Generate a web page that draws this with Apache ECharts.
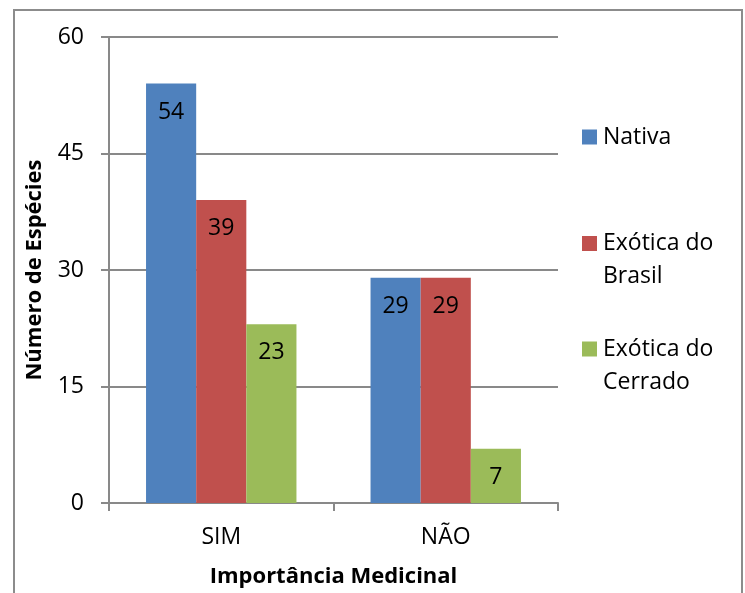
<!DOCTYPE html>
<html>
<head>
<meta charset="utf-8">
<script src="https://cdn.jsdelivr.net/npm/echarts@6/dist/echarts.min.js"></script>
<style>html,body{margin:0;padding:0;background:#fff}#c{width:745px;height:593px}</style>
</head>
<body>
<div id="c"></div>
<script>
const categories = ['SIM', 'NÃO'];
const seriesNames = ['Nativa', 'Exótica do Brasil', 'Exótica do Cerrado'];
const nativa = [54, 29];
const exoticaBrasil = [39, 29];
const exoticaCerrado = [23, 7];
const yTicks = { min: 0, max: 60, interval: 15 };
const xTitle = 'Importância Medicinal';
const yTitle = 'Número de Espécies';

const colors = ['#4F81BD', '#C0504D', '#9BBB59'];
const FONT = 'Open Sans';
const gridColor = '#898989';
const FS = 23;

const chart = echarts.init(document.getElementById('c'), null, { renderer: 'canvas' });

function legendFor(i, top, twoLine) {
  return {
    data: [seriesNames[i]],
    left: 582, top: top, padding: 0,
    orient: 'vertical',
    icon: 'rect', itemWidth: 15, itemHeight: 15,
    selectedMode: false,
    formatter: n => twoLine ? '\n' + n.replace(' do ', ' do\n') : n,
    textStyle: {
      fontFamily: FONT, fontSize: FS, color: '#000', lineHeight: 33,
      padding: [0, 0, 0, 1]
    }
  };
}

const labelOpt = {
  show: true, position: 'insideTop', distance: 17,
  fontFamily: FONT, fontSize: FS, color: '#000'
};

chart.setOption({
  animation: false,
  color: colors,
  graphic: [{
    type: 'rect', shape: { x: 14, y: 10, width: 728, height: 600 },
    style: { fill: 'none', stroke: '#8c8c8c', lineWidth: 2 }, z: -1, silent: true
  }],
  grid: { left: 109, right: 187, top: 37, bottom: 89, containLabel: false },
  legend: [legendFor(0, 120.5, false), legendFor(1, 194, true), legendFor(2, 299.5, true)],
  xAxis: {
    type: 'category', data: categories,
    name: xTitle, nameLocation: 'middle', nameGap: 63,
    nameTextStyle: { fontFamily: FONT, fontSize: 22, fontWeight: 'bold', color: '#000' },
    axisLine: { show: true, lineStyle: { color: gridColor, width: 2 } },
    axisTick: { show: true, inside: false, length: 8, alignWithLabel: false, lineStyle: { color: gridColor, width: 2 } },
    axisLabel: { fontFamily: FONT, fontSize: FS, color: '#000', margin: 23 },
    splitLine: { show: false }
  },
  yAxis: {
    type: 'value', min: yTicks.min, max: yTicks.max, interval: yTicks.interval,
    name: yTitle, nameLocation: 'middle', nameGap: 63, nameRotate: 90,
    nameTextStyle: { fontFamily: FONT, fontSize: 22, fontWeight: 'bold', color: '#000' },
    axisLine: { show: true, lineStyle: { color: gridColor, width: 2 } },
    axisTick: { show: true, inside: false, length: 8, lineStyle: { color: gridColor, width: 2 } },
    axisLabel: { fontFamily: FONT, fontSize: FS, color: '#000', margin: 25 },
    splitLine: { show: true, lineStyle: { color: gridColor, width: 2 } }
  },
  series: [
    { name: seriesNames[0], type: 'bar', data: nativa, barGap: '0%', barCategoryGap: '33%', label: labelOpt },
    { name: seriesNames[1], type: 'bar', data: exoticaBrasil, barGap: '0%', barCategoryGap: '33%', label: labelOpt },
    { name: seriesNames[2], type: 'bar', data: exoticaCerrado, barGap: '0%', barCategoryGap: '33%', label: labelOpt }
  ]
});
</script>
</body>
</html>
